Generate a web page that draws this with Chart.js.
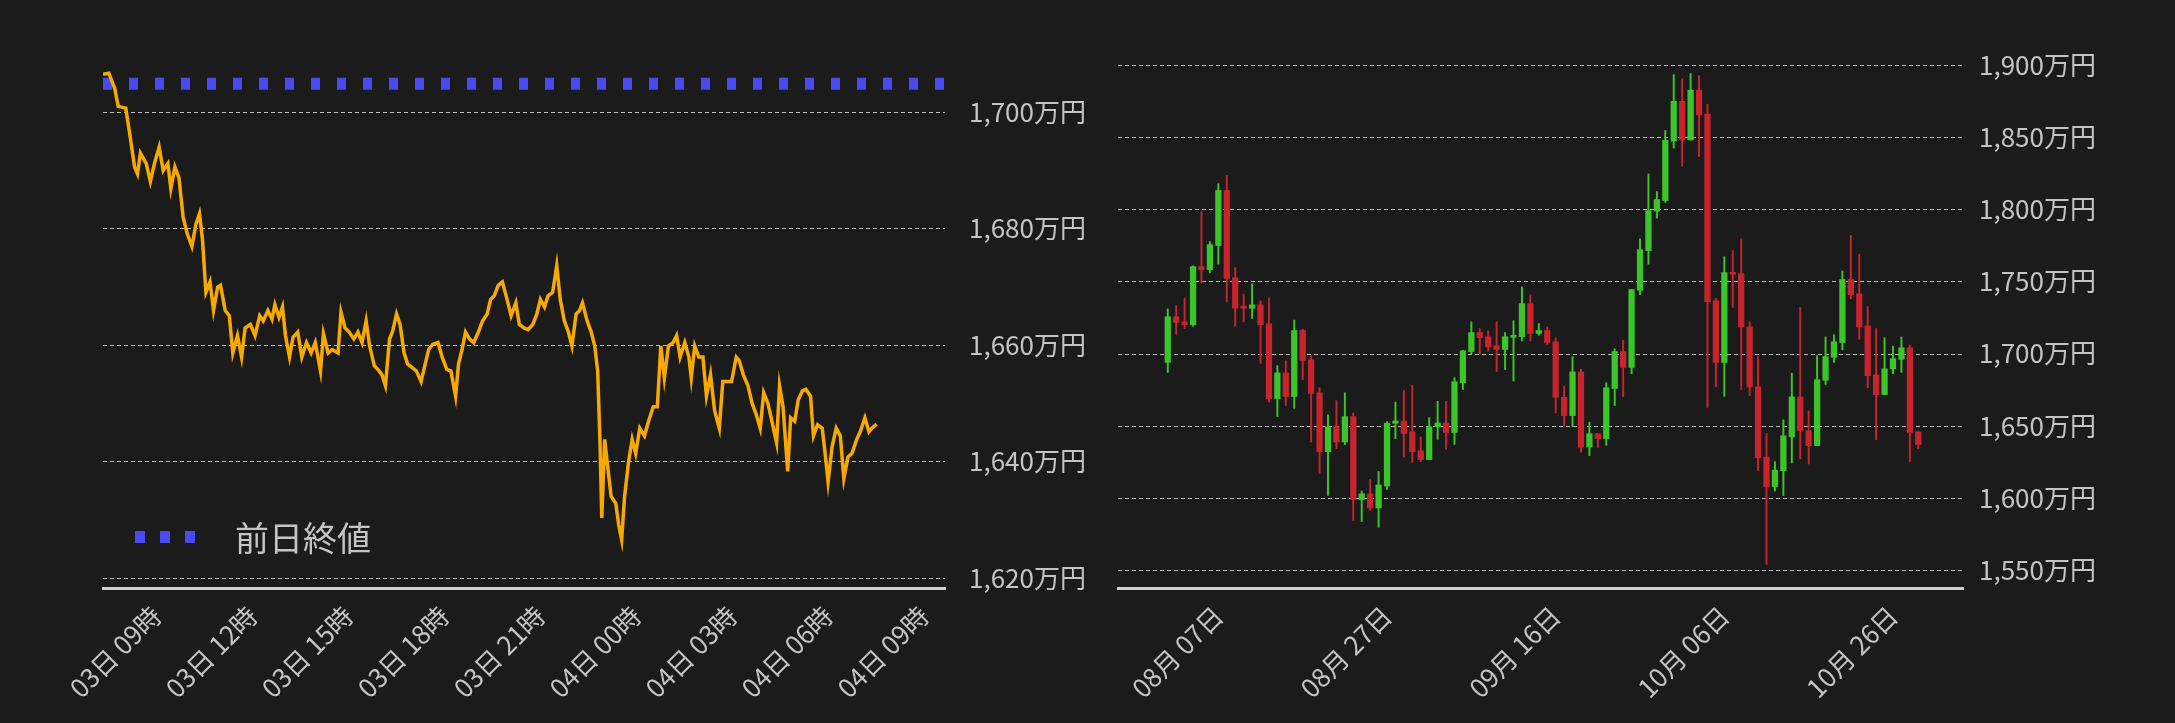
<!DOCTYPE html>
<html><head><meta charset="utf-8">
<script src="https://cdn.jsdelivr.net/npm/chart.js@4"></script>
<style>
html,body{margin:0;padding:0;background:#1b1b1b;width:2175px;height:723px;overflow:hidden;font-family:"Noto Sans CJK JP","Noto Sans",sans-serif}
#c1{position:absolute;left:0;top:0}
#c2{position:absolute;left:1100px;top:0}
#leg{position:absolute;left:135px;top:512px;color:#c4c4c4;font-size:34px;display:flex;align-items:center}
#leg span.sw{display:inline-block;width:60px;height:12px;margin-right:40px;background:repeating-linear-gradient(90deg,#4a4af2 0 10px,transparent 10px 25px)}
</style></head><body>
<canvas id="c1" width="1100" height="723"></canvas>
<canvas id="c2" width="1075" height="723"></canvas>
<div id="leg"><span class="sw"></span>前日終値</div>
<script>
// ---- intraday (left) ----
const intradayTickLabels = ["03日 09時","03日 12時","03日 15時","03日 18時","03日 21時","04日 00時","04日 03時","04日 06時","04日 09時"];
const intradayMinutes = [0,10,20,26,39,46,54,59,64,74,81,88,96,103,111,116,123,130,137,144,152,159,165,170,176,183,189,196,201,209,216,222,230,237,243,252,260,268,274,282,289,294,301,307,312,319,325,333,340,348,356,363,372,377,385,392,402,407,414,421,429,436,443,450,456,464,470,477,483,490,495,502,508,515,521,529,536,544,551,557,564,573,580,588,595,603,608,614,620,627,634,642,649,657,663,669,676,683,691,698,706,712,720,727,735,742,748,755,761,769,776,782,789,796,802,809,815,820,828,835,841,846,850,853,858,862,869,877,882,887,892,899,905,911,918,926,933,941,948,954,960,967,975,981,987,995,1002,1006,1012,1019,1026,1032,1039,1046,1054,1060,1068,1075,1083,1088,1095,1103,1110,1117,1124,1130,1137,1144,1152,1157,1163,1171,1176,1183,1189,1196,1202,1210,1215,1222,1230,1235,1240,1247,1254,1261,1267,1274,1281,1289,1295,1303,1310,1315,1323];
const intradayPrices = [1706.4,1706.6,1704,1700.9,1700.6,1696,1690.5,1689.3,1692.9,1691.1,1688,1691.1,1693.9,1689.9,1691.1,1686.8,1690.5,1688.6,1681.9,1679.1,1676.9,1680.7,1682.5,1678.2,1669,1670.8,1665.9,1669.9,1670.2,1665.9,1665,1658.6,1661.6,1657.9,1662.9,1663.5,1661.6,1665,1664.1,1665.9,1664.4,1666.9,1664.7,1666.5,1661.6,1657.9,1661.3,1662.2,1657.9,1660.4,1658.6,1660.4,1655.5,1661.9,1658.6,1659.2,1658.6,1665.6,1662.9,1662.2,1661,1662.2,1660.4,1664.1,1659.8,1656.4,1655.8,1654.9,1653,1661,1662.2,1665.3,1663.5,1658.6,1656.7,1656.1,1655.5,1653.7,1656.7,1659.2,1660.1,1660.4,1657.9,1655.8,1655.5,1651.2,1656.7,1659.2,1662.2,1661,1660.4,1662.2,1664.1,1665.3,1667.8,1668.4,1670.2,1670.8,1667.8,1665,1667.2,1663.5,1662.9,1662.6,1663.5,1665.3,1667.8,1666.5,1668.4,1669,1673.6,1667.8,1664.1,1662.2,1659.8,1665.3,1665.9,1667.2,1664.1,1662.2,1659.8,1655.5,1643.2,1630.3,1643.8,1640.1,1634,1632.8,1629.1,1626.6,1634,1640.1,1643.8,1641.4,1645.7,1644.4,1646.9,1649.4,1649.4,1659.8,1654.3,1659.8,1660.4,1661.6,1657.9,1660.4,1657.9,1654.3,1659.8,1657.9,1657.9,1651.2,1654.9,1648.7,1645.7,1653.7,1653.7,1653.7,1657.9,1657.3,1654.9,1653,1650,1648.1,1645.7,1651.8,1650,1646.9,1643.2,1653,1649.4,1638.3,1647.5,1646.9,1650.6,1652.1,1652.4,1651.2,1644.4,1646.3,1645.7,1641.4,1636.5,1642.6,1645.7,1644.4,1637.1,1640.8,1641.4,1643.8,1645.1,1647.5,1645.1,1645.7,1646.4];
const previousClose = 1704.8;
const intradayYTicks = [1620,1640,1660,1680,1700];

// ---- daily candles (right) ----
const candleDates = ["08月 01日","08月 02日","08月 03日","08月 04日","08月 05日","08月 06日","08月 07日","08月 08日","08月 09日","08月 10日","08月 11日","08月 12日","08月 13日","08月 14日","08月 15日","08月 16日","08月 17日","08月 18日","08月 19日","08月 20日","08月 21日","08月 22日","08月 23日","08月 24日","08月 25日","08月 26日","08月 27日","08月 28日","08月 29日","08月 30日","08月 31日","09月 01日","09月 02日","09月 03日","09月 04日","09月 05日","09月 06日","09月 07日","09月 08日","09月 09日","09月 10日","09月 11日","09月 12日","09月 13日","09月 14日","09月 15日","09月 16日","09月 17日","09月 18日","09月 19日","09月 20日","09月 21日","09月 22日","09月 23日","09月 24日","09月 25日","09月 26日","09月 27日","09月 28日","09月 29日","09月 30日","10月 01日","10月 02日","10月 03日","10月 04日","10月 05日","10月 06日","10月 07日","10月 08日","10月 09日","10月 10日","10月 11日","10月 12日","10月 13日","10月 14日","10月 15日","10月 16日","10月 17日","10月 18日","10月 19日","10月 20日","10月 21日","10月 22日","10月 23日","10月 24日","10月 25日","10月 26日","10月 27日","10月 28日","10月 29日"];
const candleOpen  = [1693.9,1725.6,1722,1720,1760.3,1758.2,1774.9,1813.1,1752.6,1732,1731.5,1733.8,1720.7,1668.8,1686.6,1670.2,1716,1695.8,1672.8,1632,1649.3,1638.7,1656.3,1598.8,1602.8,1593,1608.2,1651.7,1653.3,1645.8,1632.6,1626.5,1649.3,1651.9,1645.3,1679.8,1701.4,1714.6,1711.7,1705.4,1702.8,1711.3,1711.7,1734.7,1714,1716,1708.2,1669.7,1657,1687.3,1635.2,1644.4,1641.1,1675.8,1701.4,1690.4,1743.9,1771.4,1798.8,1806.1,1847.4,1874.9,1848.1,1882.6,1866,1736.6,1693.9,1756.1,1755.4,1718.5,1677,1628.2,1607.8,1618.8,1642.2,1670,1646.5,1636.2,1681.5,1697.4,1707.7,1751.4,1741.5,1719.2,1685.2,1671.6,1689.4,1696,1704,1645.8];
const candleClose = [1725.6,1721.6,1720,1760.3,1758.2,1775.6,1813.1,1752.1,1731.5,1731.5,1733.8,1720,1668.8,1686.6,1670.2,1716,1695.3,1672.3,1632,1649.3,1638.7,1656.3,1598.8,1602.8,1593,1608.9,1651.7,1653.3,1644.6,1632,1626.5,1649.3,1651.9,1645.3,1680.5,1701.9,1714.6,1711,1704.7,1702.8,1711.7,1712.6,1734.7,1714,1716,1707.7,1669.7,1657,1687.3,1635.2,1644.4,1641.1,1676.3,1701.4,1690.4,1744.4,1772,1799.1,1806.8,1847.9,1874.9,1848.1,1882.6,1865.5,1736,1693.9,1756.1,1755,1718.5,1676.8,1627.7,1607.8,1619.2,1643,1670,1646.7,1636.2,1681.9,1697.9,1708.2,1751.4,1740.8,1718.5,1684.7,1671.6,1689.4,1696.5,1704,1645.3,1636.9];
const candleHigh  = [1731,1733.3,1738.5,1760.8,1798.4,1777.7,1817.8,1823.5,1759.6,1741,1748.4,1736.6,1738.5,1691.6,1695,1723.2,1716.9,1698.6,1676.3,1657.5,1667.4,1672.8,1658.7,1604.7,1612.9,1618.3,1652.8,1666.4,1674.4,1677.9,1642.2,1655.6,1666.9,1666.9,1683.3,1702.3,1722,1717.4,1715.7,1722,1714.6,1722.8,1746.2,1740.8,1720.9,1718.5,1711,1677.5,1697.9,1689.2,1652.3,1644.6,1679.8,1703.3,1709.2,1744.4,1779.6,1824.6,1812.4,1854.7,1893.4,1890.6,1894.1,1892.7,1872.8,1738.5,1767.1,1771.4,1779.6,1722,1697.9,1644.6,1625.1,1654,1686.4,1731.9,1660.3,1698.6,1711.5,1713.1,1757.3,1781.9,1769,1732.6,1717.4,1711,1705.2,1711.5,1706,1645.8];
const candleLow   = [1686.9,1713.4,1717.4,1719,1749,1756,1762,1736,1719,1722,1724.4,1693.2,1666.4,1656.3,1664,1662,1682,1638.7,1616.9,1601.6,1634,1636.9,1584.3,1583.6,1591.3,1579.6,1605.9,1641,1628.2,1624.6,1625.1,1626.5,1640.6,1633.6,1637,1675.1,1699.8,1699.8,1701.6,1687.6,1689,1681,1708.7,1708.7,1712.7,1706.3,1658.7,1650,1649.3,1631.7,1629.3,1635,1636.4,1664,1670,1686,1740.8,1762,1794,1804.9,1842.5,1830,1848.1,1836.6,1662.7,1677,1670.4,1732,1675.1,1670.9,1618.8,1553.8,1604.7,1601.6,1624.2,1627,1623.5,1636.2,1678.6,1693.9,1702.6,1738,1709.9,1676.3,1640.4,1671.6,1686,1686.9,1625.1,1634];
const candleXTickDates = ["08月 07日","08月 27日","09月 16日","10月 06日","10月 26日"];
const candleYTicks = [1550,1600,1650,1700,1750,1800,1850,1900];

const BG = '#1b1b1b', TXT = '#c4c4c4', GRID = '#bdbdbd', AXIS = '#cfcfcf';
const GREEN = '#3cc52a', RED = '#c8242d';
const yen = v => v.toLocaleString('en-US') + '万円';
const FAM = '"Noto Sans CJK JP","Noto Sans",sans-serif';
const fontY = {family:FAM, size:26};
const fontX = {family:FAM, size:26};
const bgPlugin = {id:'bg', beforeDraw(c){const x=c.ctx;x.save();x.fillStyle=BG;x.fillRect(0,0,c.width,c.height);x.restore();}};
const dashGrid = {id:'dashGrid', beforeDatasetsDraw(c){
  const y=c.scales.y, a=c.chartArea, ctx=c.ctx; ctx.save(); ctx.strokeStyle=GRID; ctx.lineWidth=1; ctx.setLineDash([4,3]);
  y.ticks.forEach(t=>{const p=Math.round(y.getPixelForValue(t.value))+0.5; ctx.beginPath(); ctx.moveTo(a.left,p); ctx.lineTo(a.right,p); ctx.stroke();});
  ctx.restore();}};

function yScale(min,max,ticks,width,pad){
  return {position:'right',min,max,
    afterBuildTicks(s){s.ticks = ticks.map(v=>({value:v}));},
    afterFit(s){s.width = width;},
    grid:{display:false}, border:{display:false},
    ticks:{color:TXT,font:fontY,padding:pad,callback:v=>yen(v)}};
}

// left: axis tick positions (09:00 every 3h) in the sampled-minute units
const intradayTickStart = 91.2, intradayTickStep = 164.1;
new Chart(document.getElementById('c1'),{
  type:'line',
  data:{datasets:[
    {data:intradayMinutes.map((t,i)=>({x:t,y:intradayPrices[i]})),borderColor:'#f7a900',borderWidth:3.5,pointRadius:0,tension:0,order:1},
    {data:[{x:0,y:previousClose},{x:1440,y:previousClose}],borderColor:'#4a4af2',borderWidth:12,borderDash:[9,17],pointRadius:0,order:2}
  ]},
  plugins:[bgPlugin,dashGrid],
  options:{responsive:false,animation:false,
    layout:{padding:{left:103,top:65,right:0,bottom:10}},
    plugins:{legend:{display:false},tooltip:{enabled:false}},
    scales:{
      x:{type:'linear',min:0,max:1440,
        afterBuildTicks(s){s.ticks = intradayTickLabels.map((_,i)=>({value:intradayTickStart+i*intradayTickStep}));},
        afterFit(s){s.height = 125;},
        grid:{display:false},border:{display:true,color:AXIS,width:3},
        ticks:{color:TXT,font:fontX,minRotation:45,maxRotation:45,padding:4,labelOffset:0,
          callback:(v)=>intradayTickLabels[Math.round((v-intradayTickStart)/intradayTickStep)]}},
      y:yScale(1618.3,1708,intradayYTicks,155,16)
    }}
});

// right
const idx = candleDates.map((d,i)=>i);
const wicks = idx.map(i=>({x:i,y:[candleLow[i],candleHigh[i]]}));
const bodies = idx.map(i=>({x:i,y:[candleOpen[i],candleClose[i]]}));
const cols = idx.map(i=>candleClose[i]>=candleOpen[i]?GREEN:RED);
const tickIdx = candleXTickDates.map(d=>candleDates.indexOf(d));
new Chart(document.getElementById('c2'),{
  type:'bar',
  data:{datasets:[
    {data:wicks,backgroundColor:cols,barThickness:1.3,grouped:false,order:2},
    {data:bodies,backgroundColor:cols,barThickness:5.6,grouped:false,minBarLength:2,order:1}
  ]},
  plugins:[bgPlugin,dashGrid],
  options:{responsive:false,animation:false,
    layout:{padding:{left:18,top:55,right:0,bottom:10}},
    plugins:{legend:{display:false},tooltip:{enabled:false}},
    scales:{
      x:{type:'linear',min:-5.9,max:94.3,offset:false,
        afterBuildTicks(s){s.ticks = tickIdx.map(v=>({value:v}));},
        afterFit(s){s.height = 125;},
        grid:{display:false},border:{display:true,color:AXIS,width:3},
        ticks:{color:TXT,font:fontX,minRotation:45,maxRotation:45,padding:4,
          callback:(v)=>candleDates[Math.round(v)]}},
      y:yScale(1537.5,1907,candleYTicks,212,8)
    }}
});
</script>
</body></html>
